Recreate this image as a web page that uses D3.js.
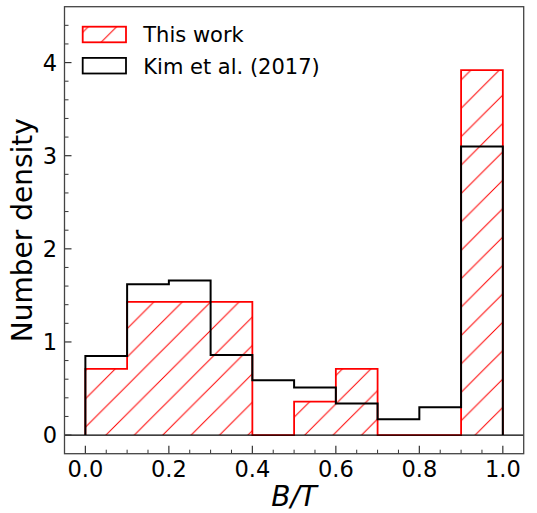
<!DOCTYPE html>
<html>
<head>
<meta charset="utf-8">
<script src="https://cdn.jsdelivr.net/npm/d3@7"></script>
<style>
  body { margin: 0; background: #fff; }
  svg text { font-family: "DejaVu Sans", sans-serif; fill: #000; }
</style>
</head>
<body>
<svg id="chart" width="537" height="513"></svg>
<script>
// bin edges for B/T
const binEdges = [0, 0.1, 0.2, 0.3, 0.4, 0.5, 0.6, 0.7, 0.8, 0.9, 1.0];
// This work (red hatched)
const thisWork = [0.71, 1.43, 1.43, 1.43, 0, 0.36, 0.71, 0, 0, 3.92];
// Kim et al. (2017) (black step)
const kim2017 = [0.85, 1.62, 1.66, 0.86, 0.59, 0.51, 0.34, 0.17, 0.30, 3.10];
const xTicks = [0, 0.2, 0.4, 0.6, 0.8, 1.0];
const yTicks = [0, 1, 2, 3, 4];
const legendLabels = ['This work', 'Kim et al. (2017)'];

const svg = d3.select('#chart');
const margin = { left: 64.5, right: 13.3, top: 6.7, bottom: 59.3 };
const W = 537, H = 513;

const x = d3.scaleLinear().domain([-0.05, 1.05]).range([margin.left, W - margin.right]);
const y = d3.scaleLinear().domain([-0.2, 4.6]).range([H - margin.bottom, margin.top]);

// hatch pattern "/"
const hs = 28.4;
const defs = svg.append('defs');
const pat = defs.append('pattern')
  .attr('id', 'hatch')
  .attr('patternUnits', 'userSpaceOnUse')
  .attr('x', 1.4)
  .attr('y', 0)
  .attr('width', hs)
  .attr('height', hs);
pat.append('path')
  .attr('d', `M0,${hs} L${hs},0 M${-hs / 2},${hs / 2} L${hs / 2},${-hs / 2} M${hs / 2},${hs * 1.5} L${hs * 1.5},${hs / 2}`)
  .attr('stroke', 'red')
  .attr('stroke-width', 1);

const clipId = 'plotclip';
defs.append('clipPath').attr('id', clipId)
  .append('rect')
  .attr('x', margin.left).attr('y', margin.top)
  .attr('width', W - margin.left - margin.right)
  .attr('height', H - margin.top - margin.bottom);

// step outline from bin values
function stepPoints(vals) {
  const pts = [[binEdges[0], 0]];
  vals.forEach((v, i) => {
    pts.push([binEdges[i], v]);
    pts.push([binEdges[i + 1], v]);
  });
  pts.push([binEdges[binEdges.length - 1], 0]);
  return pts;
}
const line = d3.line().x(d => x(d[0])).y(d => y(d[1]));

const plot = svg.append('g').attr('clip-path', `url(#${clipId})`);

// red hatched histogram
const redPts = stepPoints(thisWork);
plot.append('path')
  .attr('d', line(redPts) + 'Z')
  .attr('fill', 'url(#hatch)')
  .attr('stroke', 'none');
plot.append('path')
  .attr('d', line(redPts))
  .attr('fill', 'none')
  .attr('stroke', 'red')
  .attr('stroke-width', 1.8)
  .attr('stroke-linejoin', 'miter');

// black step histogram
plot.append('path')
  .attr('d', line(stepPoints(kim2017)))
  .attr('fill', 'none')
  .attr('stroke', '#000')
  .attr('stroke-width', 2)
  .attr('stroke-linejoin', 'miter');

// zero line
plot.append('line')
  .attr('x1', margin.left).attr('x2', W - margin.right)
  .attr('y1', y(0)).attr('y2', y(0))
  .attr('stroke', '#000')
  .attr('stroke-width', 1.4);

// ticks (inside)
const axisG = svg.append('g');
const xMinor = d3.range(0, 21).map(i => i * 0.05).filter(v => Math.abs(v * 5 - Math.round(v * 5)) > 1e-6);
const yMinor = d3.range(-1, 23).map(i => i * 0.2).filter(v => Math.abs(v - Math.round(v)) > 1e-6 && v > -0.2 && v < 4.6);
const yb = H - margin.bottom;
xTicks.forEach(t => axisG.append('line')
  .attr('x1', x(t)).attr('x2', x(t)).attr('y1', yb).attr('y2', yb - 8)
  .attr('stroke', '#333').attr('stroke-width', 1.2));
xMinor.forEach(t => axisG.append('line')
  .attr('x1', x(t)).attr('x2', x(t)).attr('y1', yb).attr('y2', yb - 4)
  .attr('stroke', '#333').attr('stroke-width', 1));
yTicks.forEach(t => axisG.append('line')
  .attr('x1', margin.left).attr('x2', margin.left + 7).attr('y1', y(t)).attr('y2', y(t))
  .attr('stroke', '#333').attr('stroke-width', 1.2));
yMinor.forEach(t => axisG.append('line')
  .attr('x1', margin.left).attr('x2', margin.left + 4).attr('y1', y(t)).attr('y2', y(t))
  .attr('stroke', '#333').attr('stroke-width', 1));

// frame
svg.append('rect')
  .attr('x', margin.left).attr('y', margin.top)
  .attr('width', W - margin.left - margin.right)
  .attr('height', H - margin.top - margin.bottom)
  .attr('fill', 'none')
  .attr('stroke', '#444')
  .attr('stroke-width', 1.3);

// tick labels
xTicks.forEach(t => svg.append('text')
  .attr('x', x(t)).attr('y', 477)
  .attr('text-anchor', 'middle')
  .style('font-size', '22.5px')
  .text(t.toFixed(1)));
yTicks.forEach(t => svg.append('text')
  .attr('x', 57).attr('y', y(t))
  .attr('dy', '0.36em')
  .attr('text-anchor', 'end')
  .style('font-size', '22.5px')
  .text(t));

// axis labels
svg.append('text')
  .attr('x', (margin.left + W - margin.right) / 2).attr('y', 506)
  .attr('text-anchor', 'middle')
  .style('font-size', '28px')
  .style('font-style', 'italic')
  .text('B/T');
svg.append('text')
  .attr('transform', `translate(32,${(margin.top + yb) / 2}) rotate(-90)`)
  .attr('text-anchor', 'middle')
  .style('font-size', '28px')
  .text('Number density');

// legend
const lg = svg.append('g');
const lx = 82.7, lw = 43.3, lh = 15.6;
const rows = [
  { y: 26.7, stroke: 'red', fill: 'url(#hatch)' },
  { y: 57.9, stroke: '#000', fill: 'none' }
];
rows.forEach((r, i) => {
  lg.append('rect')
    .attr('x', lx).attr('y', r.y).attr('width', lw).attr('height', lh)
    .attr('fill', r.fill)
    .attr('stroke', r.stroke)
    .attr('stroke-width', 1.8);
  lg.append('text')
    .attr('x', 143.3).attr('y', r.y + lh)
    .style('font-size', '21px')
    .text(legendLabels[i]);
});
</script>
</body>
</html>
